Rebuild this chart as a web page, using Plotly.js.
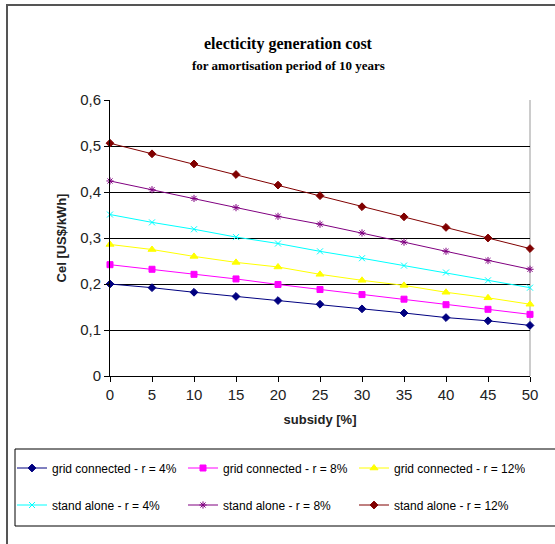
<!DOCTYPE html>
<html>
<head>
<meta charset="utf-8">
<script src="https://cdn.plot.ly/plotly-3.0.1.min.js"></script>
<style>html,body{margin:0;padding:0;background:#fff;}#chart{width:555px;height:544px;}</style>
</head>
<body>
<div id="chart"></div>
<script>
const subsidy = [0, 5, 10, 15, 20, 25, 30, 35, 40, 45, 50];
const gridR4  = [0.200, 0.192, 0.182, 0.173, 0.164, 0.156, 0.146, 0.137, 0.127, 0.120, 0.110];
const gridR8  = [0.242, 0.232, 0.221, 0.211, 0.199, 0.188, 0.177, 0.167, 0.155, 0.145, 0.134];
const gridR12 = [0.286, 0.275, 0.260, 0.247, 0.237, 0.221, 0.208, 0.197, 0.182, 0.170, 0.156];
const aloneR4  = [0.351, 0.334, 0.319, 0.302, 0.288, 0.271, 0.256, 0.240, 0.225, 0.208, 0.192];
const aloneR8  = [0.424, 0.405, 0.386, 0.366, 0.347, 0.330, 0.311, 0.291, 0.271, 0.251, 0.232];
const aloneR12 = [0.506, 0.483, 0.461, 0.438, 0.415, 0.392, 0.368, 0.346, 0.323, 0.300, 0.277];
const seriesNames = ['grid connected - r = 4%', 'grid connected - r = 8%', 'grid connected - r = 12%',
                     'stand alone - r = 4%', 'stand alone - r = 8%', 'stand alone - r = 12%'];
const yTickVals = [0, 0.1, 0.2, 0.3, 0.4, 0.5, 0.6];
const yTickText = ['0', '0,1', '0,2', '0,3', '0,4', '0,5', '0,6'];

const seriesData = [gridR4, gridR8, gridR12, aloneR4, aloneR8, aloneR12];
const colors = ['#000080', '#FF00FF', '#FFFF00', '#00FFFF', '#800080', '#800000'];
const symbols = ['diamond', 'square', 'triangle-up', 'x-thin-open', 'asterisk-open', 'diamond'];
const sizes = [6, 6, 7, 6, 6, 6];

const traces = seriesData.map((ys, i) => ({
  x: subsidy, y: ys, type: 'scatter', mode: 'lines+markers', name: seriesNames[i],
  line: {color: colors[i], width: 1},
  marker: {symbol: symbols[i], size: sizes[i], color: colors[i], line: {color: colors[i], width: 1}},
  cliponaxis: false,
  legend: i < 3 ? 'legend' : 'legend2'
}));

const px = v => (v - 110) / 420;
const py = v => (376 - v) / 276;
const font = 'Liberation Sans, Arial, sans-serif';
const legendCommon = {
  orientation: 'h', xanchor: 'left', yanchor: 'middle', entrywidth: 126, entrywidthmode: 'pixels',
  font: {family: font, size: 12, color: '#000'}, bgcolor: 'rgba(0,0,0,0)', borderwidth: 0, traceorder: 'normal'
};

const layout = {
  width: 555, height: 544,
  margin: {l: 110, r: 25, t: 100, b: 168},
  paper_bgcolor: '#fff', plot_bgcolor: '#fff',
  showlegend: true,
  legend: Object.assign({}, legendCommon, {x: px(12), y: py(468)}),
  legend2: Object.assign({}, legendCommon, {x: px(12), y: py(505)}),
  xaxis: {
    range: [0, 50], tickmode: 'array', tickvals: subsidy, ticks: 'outside', ticklen: 5, tickcolor: '#000',
    showline: true, linecolor: '#000', linewidth: 1, showgrid: false, zeroline: false,
    tickfont: {family: font, size: 15, color: '#222'},
    title: {text: '<b>subsidy [%]</b>', font: {family: font, size: 13, color: '#222'}, standoff: 12}
  },
  yaxis: {
    range: [0, 0.6], tickmode: 'array', tickvals: yTickVals, ticktext: yTickText, ticks: 'outside', ticklen: 5, tickcolor: '#000',
    showline: true, linecolor: '#000', linewidth: 1, showgrid: true, gridcolor: '#000', gridwidth: 1, zeroline: false,
    tickfont: {family: font, size: 15, color: '#222'},
    title: {text: '<b>Cel [US$/kWh]</b>', font: {family: font, size: 13, color: '#222'}, standoff: 10}
  },
  annotations: [
    {text: '<b>electicity generation cost</b>', xref: 'paper', yref: 'paper', x: px(288), y: py(44),
     xanchor: 'center', yanchor: 'middle',
     showarrow: false, font: {family: 'Liberation Serif, Times New Roman, serif', size: 16, color: '#000'}},
    {text: '<b>for amortisation period of 10 years</b>', xref: 'paper', yref: 'paper', x: px(288), y: py(65),
     xanchor: 'center', yanchor: 'middle',
     showarrow: false, font: {family: 'Liberation Serif, Times New Roman, serif', size: 13, color: '#000'}}
  ],
  shapes: [
    {type: 'rect', xref: 'paper', yref: 'paper', x0: px(7), x1: px(570), y0: py(560), y1: py(5),
     line: {color: '#555', width: 2}, layer: 'below'},
    {type: 'rect', xref: 'paper', yref: 'paper', x0: px(15), x1: px(570), y0: py(526), y1: py(449),
     line: {color: '#000', width: 1}, layer: 'below'},
    {type: 'line', xref: 'paper', yref: 'paper', x0: 1, x1: 1, y0: 0, y1: 1,
     line: {color: '#999', width: 1}, layer: 'below'}
  ]
};

Plotly.newPlot('chart', traces, layout, {displayModeBar: false, staticPlot: true});
</script>
</body>
</html>
